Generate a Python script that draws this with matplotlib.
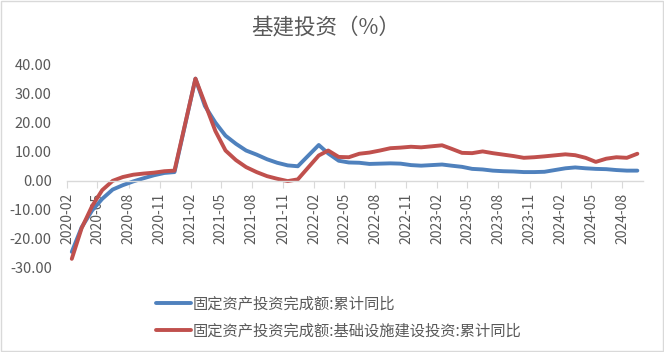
import matplotlib
matplotlib.use("Agg")
import matplotlib.pyplot as plt
import matplotlib.dates as mdates
from matplotlib.patches import Rectangle
import datetime as dt

plt.rcParams['font.family'] = ['Noto Sans CJK SC', 'DejaVu Sans']

months = ["2020-02", "2020-03", "2020-04", "2020-05", "2020-06", "2020-07", "2020-08", "2020-09", "2020-10", "2020-11", "2020-12",
          "2021-02", "2021-03", "2021-04", "2021-05", "2021-06", "2021-07", "2021-08", "2021-09", "2021-10", "2021-11", "2021-12",
          "2022-02", "2022-03", "2022-04", "2022-05", "2022-06", "2022-07", "2022-08", "2022-09", "2022-10", "2022-11", "2022-12",
          "2023-02", "2023-03", "2023-04", "2023-05", "2023-06", "2023-07", "2023-08", "2023-09", "2023-10", "2023-11", "2023-12",
          "2024-02", "2024-03", "2024-04", "2024-05", "2024-06", "2024-07", "2024-08", "2024-09"]

fai_total = [-24.5, -16.1, -10.3, -6.3, -3.1, -1.6, -0.3, 0.8, 1.8, 2.6, 2.9,
             35.0, 25.6, 19.9, 15.4, 12.6, 10.3, 8.9, 7.3, 6.1, 5.2, 4.9,
             12.2, 9.3, 6.8, 6.2, 6.1, 5.7, 5.8, 5.9, 5.8, 5.3, 5.1,
             5.5, 5.1, 4.7, 4.0, 3.8, 3.4, 3.2, 3.1, 2.9, 2.9, 3.0,
             4.2, 4.5, 4.2, 4.0, 3.9, 3.6, 3.4, 3.4]

fai_infra = [-26.9, -16.4, -8.8, -3.3, -0.1, 1.2, 2.0, 2.4, 2.7, 3.2, 3.4,
             35.0, 26.5, 17.0, 10.3, 7.0, 4.6, 2.9, 1.5, 0.6, -0.2, 0.4,
             8.6, 10.3, 8.1, 8.0, 9.2, 9.6, 10.3, 11.1, 11.3, 11.6, 11.4,
             12.1, 10.9, 9.5, 9.4, 10.0, 9.4, 8.9, 8.4, 7.8, 8.0, 8.3,
             9.0, 8.7, 7.8, 6.4, 7.5, 8.0, 7.8, 9.2]

tick_labels = ["2020-02", "2020-05", "2020-08", "2020-11", "2021-02", "2021-05", "2021-08", "2021-11",
               "2022-02", "2022-05", "2022-08", "2022-11", "2023-02", "2023-05", "2023-08", "2023-11",
               "2024-02", "2024-05", "2024-08"]

labels = ["固定资产投资完成额:累计同比", "固定资产投资完成额:基础设施建设投资:累计同比"]
title = "基建投资（%）"

def mid_month(s):
    y, m = map(int, s.split("-"))
    return mdates.date2num(dt.datetime(y, m, 15))

def month_start(s):
    y, m = map(int, s.split("-"))
    return mdates.date2num(dt.datetime(y, m, 1))

x = [mid_month(s) for s in months]
gray = "#595959"

fig = plt.figure(figsize=(6.64, 3.52), dpi=100)
ax = fig.add_axes([0.101, 0.239, 0.867, 0.579])

l1, = ax.plot(x, fai_total, color="#4F81BD", lw=2.8, solid_capstyle="round", solid_joinstyle="round")
l2, = ax.plot(x, fai_infra, color="#C0504D", lw=2.8, solid_capstyle="round", solid_joinstyle="round")

yt = [-30, -20, -10, 0, 10, 20, 30, 40]
ax.set_ylim(-30, 40)
ax.set_yticks(yt)
ax.set_yticklabels([f"{v:.2f}" for v in yt])
ax.set_xlim(month_start("2020-02"), mdates.date2num(dt.datetime(2024, 10, 1)))
ax.set_xticks([month_start(s) for s in tick_labels])
ax.set_xticklabels(tick_labels)

for s in ["top", "right", "left"]:
    ax.spines[s].set_visible(False)
ax.spines["bottom"].set_position(("data", 0))
ax.spines["bottom"].set_color("#d9d9d9")
ax.spines["bottom"].set_linewidth(1.0)
ax.tick_params(axis="x", direction="out", length=5, color="#d9d9d9", pad=4,
               labelrotation=90, labelcolor=gray, labelsize=10)
ax.tick_params(axis="y", length=0, pad=11, labelcolor=gray, labelsize=10.5)

fig.text(0.49, 0.922, title, ha="center", va="center", fontsize=15.5, color=gray)

fig.legend([l1, l2], labels, loc="upper left", bbox_to_anchor=(0.226, 0.177),
           frameon=False, fontsize=11, labelcolor=gray, handlelength=2.3,
           handletextpad=0.1, labelspacing=0.62, borderaxespad=0)

fig.patches.append(Rectangle((0.002, 0.004), 0.996, 0.992, transform=fig.transFigure,
                             fill=False, edgecolor="#d9d9d9", lw=1.0))

fig.savefig("out.png", dpi=100)
